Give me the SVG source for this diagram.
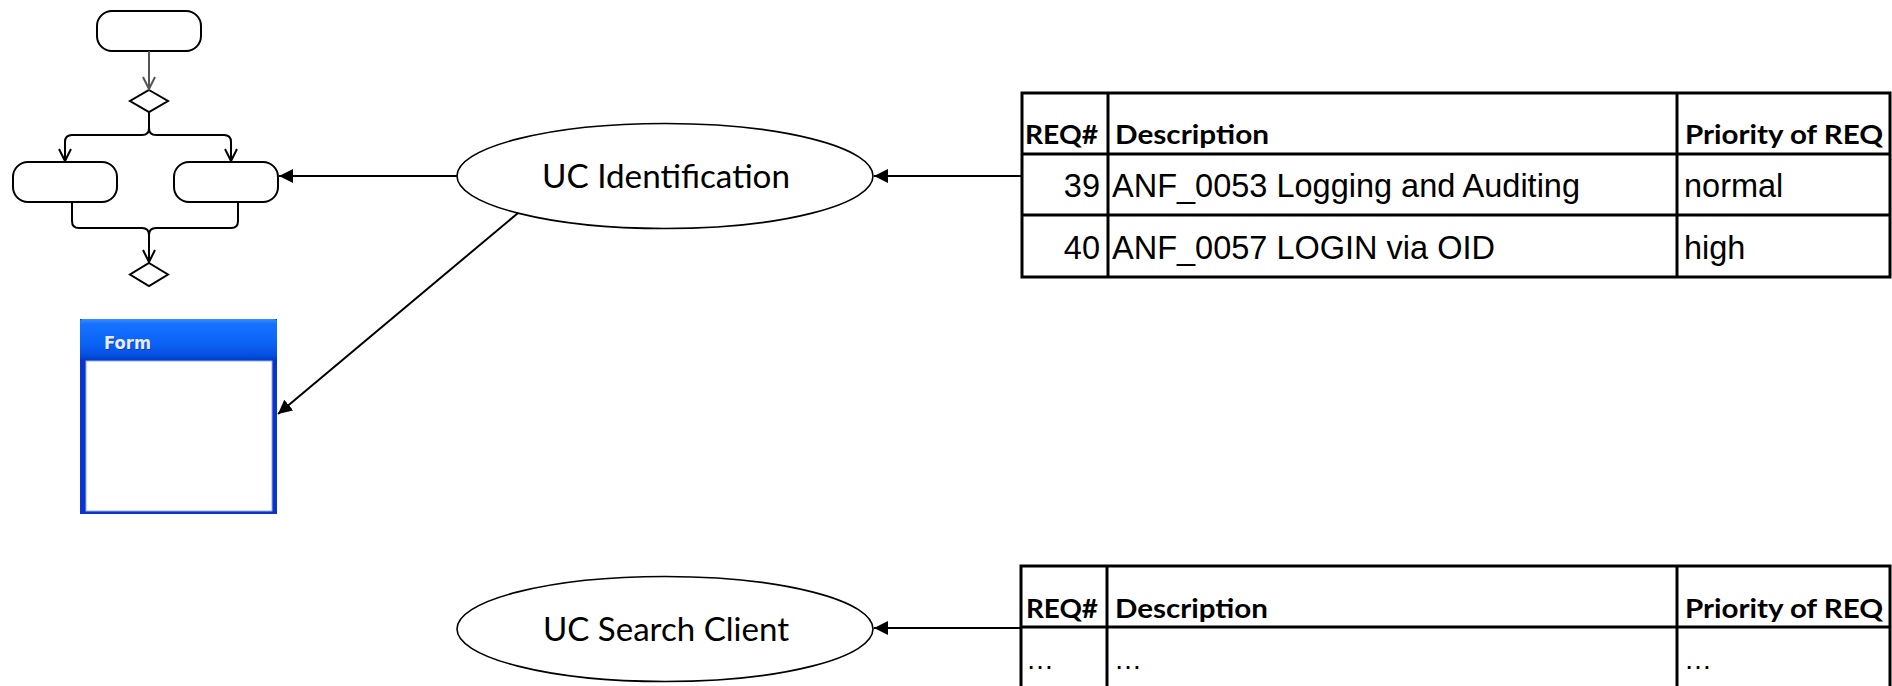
<svg xmlns="http://www.w3.org/2000/svg" width="1892" height="686" viewBox="0 0 1892 686">
  <style>
    .act { fill: #ffffff; stroke: #000000; stroke-width: 2; }
    .flow { fill: none; stroke: #000000; stroke-width: 2; }
    .uc { fill: #ffffff; stroke: #000000; stroke-width: 1.6; }
    .uctext { font-family: Lato, "Open Sans", sans-serif; font-size: 33px; fill: #000000; text-anchor: middle; }
    .conn { fill: none; stroke: #000000; stroke-width: 2; }
    .grid { fill: none; stroke: #000000; stroke-width: 3; }
    .hdr { font-family: Lato, "Open Sans", sans-serif; font-weight: bold; font-size: 27px; fill: #000000; }
    .cell { font-family: "Liberation Sans", Arial, sans-serif; font-size: 32.5px; fill: #000000; }
    .dots { font-family: "Liberation Sans", Arial, sans-serif; font-size: 28px; fill: #000000; }
  </style>
  <defs>
    <marker id="solid" markerUnits="userSpaceOnUse" markerWidth="16" markerHeight="16" refX="14" refY="7" orient="auto">
      <path d="M0,0 L14,7 L0,14 Z" fill="#000000"/>
    </marker>
    <linearGradient id="titleGrad" x1="0" y1="0" x2="0" y2="1">
      <stop offset="0" stop-color="#3a8cff"/>
      <stop offset="0.12" stop-color="#1572ff"/>
      <stop offset="0.6" stop-color="#0a62f5"/>
      <stop offset="0.85" stop-color="#0650e0"/>
      <stop offset="1" stop-color="#0038c8"/>
    </linearGradient>
  </defs>

  <!-- activity flow -->
  <g id="activity-start">
    <rect class="act" x="97" y="11" width="104" height="40" rx="15"/>
  </g>
  <g id="decision-top">
    <polygon class="act" points="149,90 168,101 149,112 130,101"/>
  </g>
  <g id="activity-left">
    <rect class="act" x="13" y="162" width="104" height="40" rx="15"/>
  </g>
  <g id="activity-right">
    <rect class="act" x="174" y="162" width="104" height="40" rx="15"/>
  </g>
  <g id="decision-bottom">
    <polygon class="act" points="149,263 168,274.5 149,286 130,274.5"/>
  </g>

  <!-- form window -->
  <g id="form">
    <rect x="80" y="319" width="197" height="195" fill="#0a34cc"/>
    <rect x="80" y="319" width="197" height="42" rx="3" fill="url(#titleGrad)"/>
    <rect x="86" y="361" width="186" height="150" fill="#ffffff" stroke="#8fb0f0" stroke-width="1"/>
    <text x="105" y="350" font-family="'DejaVu Sans', Verdana, sans-serif" font-weight="bold" font-size="18px" fill="#1a2a80" opacity="0.55" textLength="47" lengthAdjust="spacingAndGlyphs">Form</text>
    <text x="104" y="349" font-family="'DejaVu Sans', Verdana, sans-serif" font-weight="bold" font-size="18px" fill="#e4ecff" textLength="47" lengthAdjust="spacingAndGlyphs">Form</text>
  </g>

  <!-- use cases -->
  <g id="uc-identification">
    <ellipse class="uc" cx="665" cy="176" rx="208" ry="52.5"/>
    <text class="uctext" x="666" y="188" textLength="248" lengthAdjust="spacingAndGlyphs">UC Identification</text>
  </g>
  <g id="uc-search-client">
    <ellipse class="uc" cx="665" cy="629" rx="208" ry="52.5"/>
    <text class="uctext" x="666" y="641" textLength="246" lengthAdjust="spacingAndGlyphs">UC Search Client</text>
  </g>

  <!-- requirement tables -->
  <g id="req-table-identification">
    <rect class="grid" x="1022" y="93" width="868" height="184" fill="#ffffff"/>
    <line class="grid" x1="1108" y1="93" x2="1108" y2="277"/>
    <line class="grid" x1="1677" y1="93" x2="1677" y2="277"/>
    <line class="grid" x1="1022" y1="154" x2="1890" y2="154"/>
    <line class="grid" x1="1022" y1="215" x2="1890" y2="215"/>
    <text class="hdr" x="1025" y="144" textLength="73" lengthAdjust="spacingAndGlyphs">REQ#</text>
    <text class="hdr" x="1115" y="144" textLength="154" lengthAdjust="spacingAndGlyphs">Description</text>
    <text class="hdr" x="1685" y="144" textLength="198" lengthAdjust="spacingAndGlyphs">Priority of REQ</text>
    <text class="cell" x="1100" y="197" text-anchor="end">39</text>
    <text class="cell" x="1112" y="197">ANF_0053 Logging and Auditing</text>
    <text class="cell" x="1684" y="197">normal</text>
    <text class="cell" x="1100" y="259" text-anchor="end">40</text>
    <text class="cell" x="1112" y="259">ANF_0057 LOGIN via OID</text>
    <text class="cell" x="1684" y="259">high</text>
  </g>
  <g id="req-table-search-client">
    <rect class="grid" x="1021" y="566" width="869" height="140" fill="#ffffff"/>
    <line class="grid" x1="1107" y1="566" x2="1107" y2="686"/>
    <line class="grid" x1="1677" y1="566" x2="1677" y2="686"/>
    <line class="grid" x1="1021" y1="627" x2="1890" y2="627"/>
    <text class="hdr" x="1026" y="618" textLength="72" lengthAdjust="spacingAndGlyphs">REQ#</text>
    <text class="hdr" x="1115" y="618" textLength="153" lengthAdjust="spacingAndGlyphs">Description</text>
    <text class="hdr" x="1685" y="618" textLength="198" lengthAdjust="spacingAndGlyphs">Priority of REQ</text>
    <text class="dots" x="1026" y="669">…</text>
    <text class="dots" x="1114" y="669">…</text>
    <text class="dots" x="1684" y="669">…</text>
  </g>

  <!-- connectors -->
  <g id="connectors">
    <!-- control flow inside the activity -->
    <line x1="149" y1="51" x2="149" y2="89" stroke="#555555" stroke-width="2"/>
    <polyline points="143,77 149,89 155,77" fill="none" stroke="#555555" stroke-width="2"/>
    <path class="flow" d="M149,112 V128 Q149,135 142,135 H72 Q65,135 65,142 V161"/>
    <path class="flow" d="M149,112 V128 Q149,135 156,135 H224 Q231,135 231,142 V161"/>
    <polyline class="flow" points="59,149 65,161 71,149"/>
    <polyline class="flow" points="225,149 231,161 237,149"/>
    <path class="flow" d="M72,202 V221 Q72,228 79,228 H142 Q149,228 149,235 V262"/>
    <path class="flow" d="M238,202 V221 Q238,228 231,228 H156 Q149,228 149,235"/>
    <polyline class="flow" points="143,250 149,262 155,250"/>
    <!-- use case links -->
    <line class="conn" x1="457" y1="176" x2="279" y2="176" marker-end="url(#solid)"/>
    <line class="conn" x1="1022" y1="176" x2="874" y2="176" marker-end="url(#solid)"/>
    <line class="conn" x1="518" y1="213" x2="278" y2="414" marker-end="url(#solid)"/>
    <line class="conn" x1="1021" y1="628" x2="874" y2="628" marker-end="url(#solid)"/>
  </g>
</svg>
